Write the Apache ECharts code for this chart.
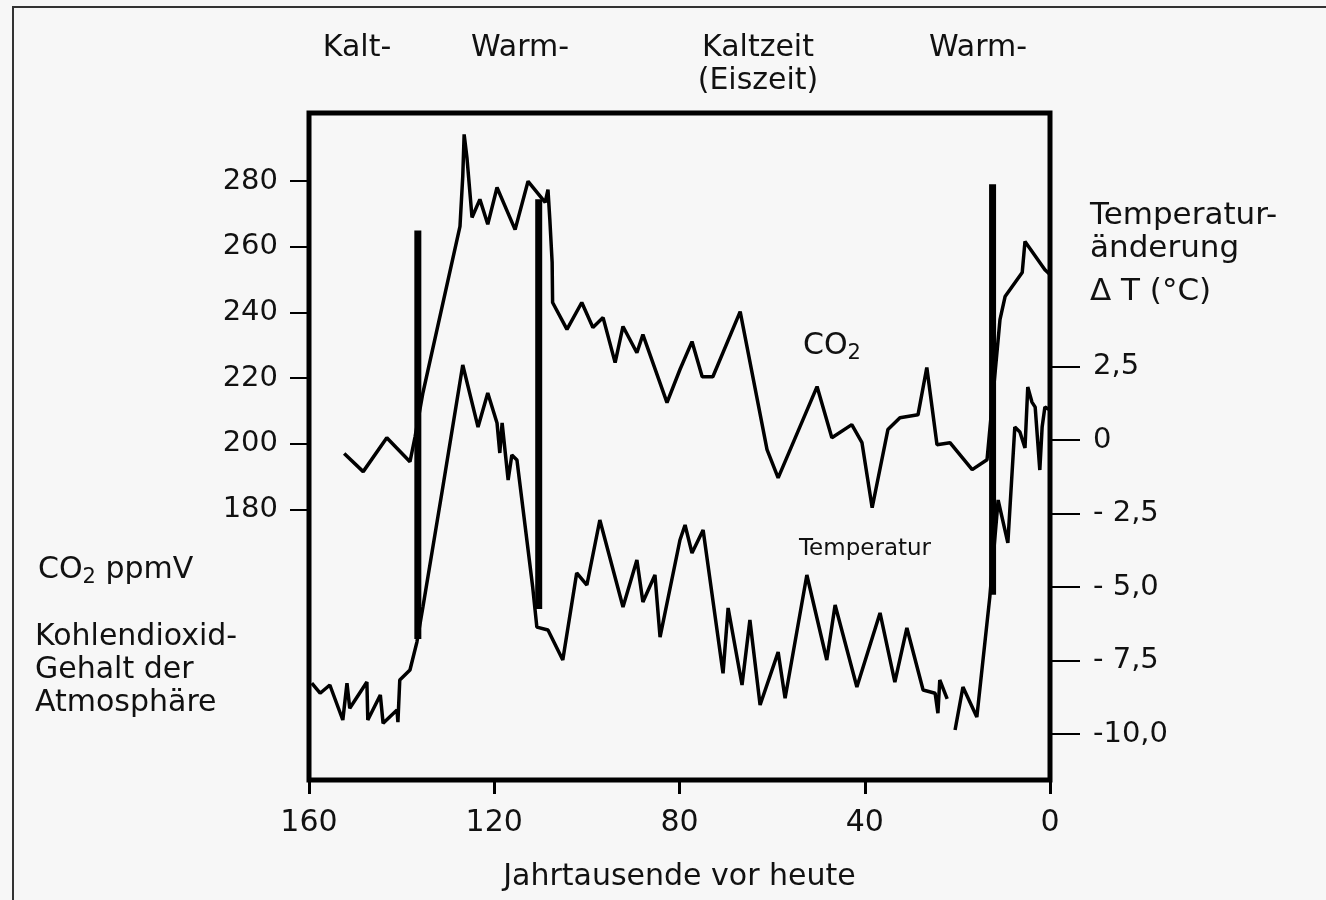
<!DOCTYPE html>
<html>
<head>
<meta charset="utf-8">
<script src="https://cdn.jsdelivr.net/npm/echarts@6/dist/echarts.min.js"></script>
<style>
  html, body { margin: 0; padding: 0; background: #f7f7f7; }
  #chart { width: 1326px; height: 900px; }
</style>
</head>
<body>
<div id="chart"></div>
<script>
// ---- data (ages in thousand years before present) ----
const co2Ages = [152.4,148.3,143.2,138.2,137.1,135.4,127.4,126.8,126.5,125.9,124.8,123.1,121.4,119.4,115.5,112.7,109.0,108.4,108.0,107.5,107.4,104.3,101.1,98.7,96.5,93.9,92.2,89.2,87.9,82.7,79.9,77.3,75.1,72.8,66.9,61.1,58.7,50.3,47.1,42.8,40.6,38.4,35.0,32.4,28.5,26.6,24.4,21.6,16.8,13.6,10.8,9.7,6.0,5.4,1.1,0];
const co2Values = [197,191.5,201.8,194.5,202.1,215.5,266.2,281.4,294.2,287.2,268.9,274.4,266.8,278,265.2,279.9,273.5,277.4,268.3,255.2,243,234.8,243,235.4,238.4,224.7,235.7,227.7,233.2,212.5,222.6,231.1,220.4,220.4,240.2,198.2,189.6,217.4,201.8,205.8,200.3,180.5,204.3,207.9,208.8,223.2,199.7,200.3,192.1,195.1,237.8,244.8,252.1,261.6,253,251.5];

const tempAges = [159.4,157.6,155.5,152.7,151.8,151.2,147.5,147.3,144.6,144.0,141.0,140.8,140.4,138.2,136.7,135.4,131.1,126.8,123.5,121.4,119.4,118.8,118.3,117.0,116.2,115.1,111.7,110.8,108.4,105.2,102.2,100.0,97.2,92.2,89.2,87.9,85.3,84.2,79.9,78.8,77.3,74.9,70.6,69.5,66.5,64.8,62.6,58.7,57.2,52.5,48.2,46.4,41.7,36.7,33.5,30.9,27.4,24.8,24.2,23.8,22.2,21.4,20.5,18.8,15.8,13.0,11.2,9.1,7.6,6.5,5.4,4.8,3.9,3.2,2.2,1.7,1.1,0];
const tempValues = [-8.27,-8.61,-8.33,-9.52,-8.27,-9.12,-8.23,-9.52,-8.67,-9.63,-9.18,-9.59,-8.16,-7.82,-6.87,-5.68,-1.60,2.55,0.44,1.60,0.58,-0.44,0.58,-1.36,-0.51,-0.68,-5.00,-6.36,-6.46,-7.48,-4.52,-4.93,-2.72,-5.68,-4.08,-5.51,-4.59,-6.70,-3.40,-2.89,-3.84,-3.06,-7.93,-5.71,-8.33,-6.12,-9.01,-7.21,-8.78,-4.59,-7.48,-5.61,-8.40,-5.88,-8.23,-6.39,-8.50,-8.61,-9.29,-8.16,-8.80,null,-9.86,-8.40,-9.42,-5.34,-2.04,-3.50,0.44,0.27,-0.27,1.80,1.29,1.12,-1.02,0.44,1.12,1.02];

// vertical marker bars (age, top and bottom in ppm units of the left axis)
const barAges = [136.5, 110.4, 12.4];
const barTops = [264.9, 274.4, 279.0];
const barBottoms = [140.5, 149.7, 154.0];

// tick labels
const xTicks = [0, 40, 80, 120, 160];
const co2Ticks = [180, 200, 220, 240, 260, 280];
const tempTicks = [-10, -7.5, -5, -2.5, 0, 2.5];
const tempTickLabels = ['-10,0', '- 7,5', '- 5,0', '- 2,5', '0', '2,5'];

const periodLabels = ['Kalt-', 'Warm-', 'Kaltzeit', '(Eiszeit)', 'Warm-'];

// ---- chart ----
const FONT = 'DejaVu Sans';
const chart = echarts.init(document.getElementById('chart'));

const co2Data = co2Ages.map((a, i) => [a, co2Values[i]]);
const tempData = tempAges.map((a, i) => [a, tempValues[i]]);

const barSeries = barAges.map((a, i) => ({
  type: 'line',
  yAxisIndex: 0,
  data: [[a, barTops[i]], [a, barBottoms[i]]],
  showSymbol: false,
  silent: true,
  z: 5,
  lineStyle: { color: '#000', width: 7, cap: 'butt' }
}));

const txt = (x, y, text, size, align) => ({
  type: 'text', x: x, y: y,
  style: { text: text, font: size + 'px "' + FONT + '"', fill: '#111',
           textAlign: align || 'left', textVerticalAlign: 'middle' }
});

chart.setOption({
  backgroundColor: '#f7f7f7',
  animation: false,
  grid: {
    left: 309, right: 276, top: 113, bottom: 120,
    outerBoundsMode: 'none', containLabel: false,
    show: true, borderColor: '#000', borderWidth: 5, backgroundColor: 'transparent'
  },
  xAxis: {
    type: 'value', min: 0, max: 160, interval: 40, inverse: true, position: 'bottom',
    axisLine: { show: false, onZero: false },
    axisTick: { show: true, length: 14, lineStyle: { color: '#000', width: 3 } },
    axisLabel: { color: '#111', fontFamily: FONT, fontSize: 30, margin: 28,
                 customValues: xTicks },
    splitLine: { show: false },
    name: 'Jahrtausende vor heute', nameLocation: 'middle', nameGap: 82,
    nameTextStyle: { color: '#111', fontFamily: FONT, fontSize: 30 }
  },
  yAxis: [
    {
      type: 'value', min: 97.6, max: 300.7, position: 'left',
      axisLine: { show: false, onZero: false },
      axisTick: { show: true, length: 19, customValues: co2Ticks,
                  lineStyle: { color: '#000', width: 2 } },
      axisLabel: { color: '#111', fontFamily: FONT, fontSize: 29, margin: 31,
                   customValues: co2Ticks },
      splitLine: { show: false }
    },
    {
      type: 'value', min: -11.56, max: 11.12, position: 'right',
      axisLine: { show: false, onZero: false },
      axisTick: { show: true, length: 30, customValues: tempTicks,
                  lineStyle: { color: '#000', width: 2 } },
      axisLabel: { color: '#111', fontFamily: FONT, fontSize: 29, margin: 43,
                   customValues: tempTicks,
                   formatter: v => {
                     const i = tempTicks.findIndex(t => Math.abs(t - v) < 1e-6);
                     return i >= 0 ? tempTickLabels[i] : '';
                   } },
      splitLine: { show: false }
    }
  ],
  series: [
    {
      name: 'CO2', type: 'line', yAxisIndex: 0, data: co2Data,
      showSymbol: false, silent: true, z: 3,
      lineStyle: { color: '#000', width: 3.5 }
    },
    {
      name: 'Temperatur', type: 'line', yAxisIndex: 1, data: tempData,
      showSymbol: false, silent: true, connectNulls: false, z: 3,
      lineStyle: { color: '#000', width: 3.5 }
    }
  ].concat(barSeries),
  graphic: [
    { type: 'rect', shape: { x: 13, y: 7, width: 1400, height: 1000 },
      style: { fill: 'none', stroke: '#333', lineWidth: 2 }, silent: true, z: -1 },
    txt(357, 48, periodLabels[0], 30, 'center'),
    txt(520, 48, periodLabels[1], 30, 'center'),
    txt(758, 48, periodLabels[2], 30, 'center'),
    txt(758, 81, periodLabels[3], 30, 'center'),
    txt(978, 48, periodLabels[4], 30, 'center'),
    txt(1090, 216, 'Temperatur-', 31),
    txt(1090, 249, 'änderung', 31),
    txt(1090, 292, 'Δ T (°C)', 31),
    txt(35, 637, 'Kohlendioxid-', 30),
    txt(35, 670, 'Gehalt der', 30),
    txt(35, 703, 'Atmosphäre', 30),
    {
      type: 'text', x: 38, y: 552,
      style: {
        text: '{a|CO}{s|2}{a| ppmV}',
        rich: {
          a: { font: '30px "' + FONT + '"', fill: '#111', lineHeight: 36, verticalAlign: 'middle' },
          s: { font: '21px "' + FONT + '"', fill: '#111', lineHeight: 12, verticalAlign: 'bottom' }
        }
      }
    },
    {
      type: 'text', x: 803, y: 328,
      style: {
        text: '{a|CO}{s|2}',
        rich: {
          a: { font: '30px "' + FONT + '"', fill: '#111', lineHeight: 36, verticalAlign: 'middle' },
          s: { font: '21px "' + FONT + '"', fill: '#111', lineHeight: 12, verticalAlign: 'bottom' }
        }
      }
    },
    txt(865, 549, 'Temperatur', 23, 'center')
  ]
});
</script>
</body>
</html>
